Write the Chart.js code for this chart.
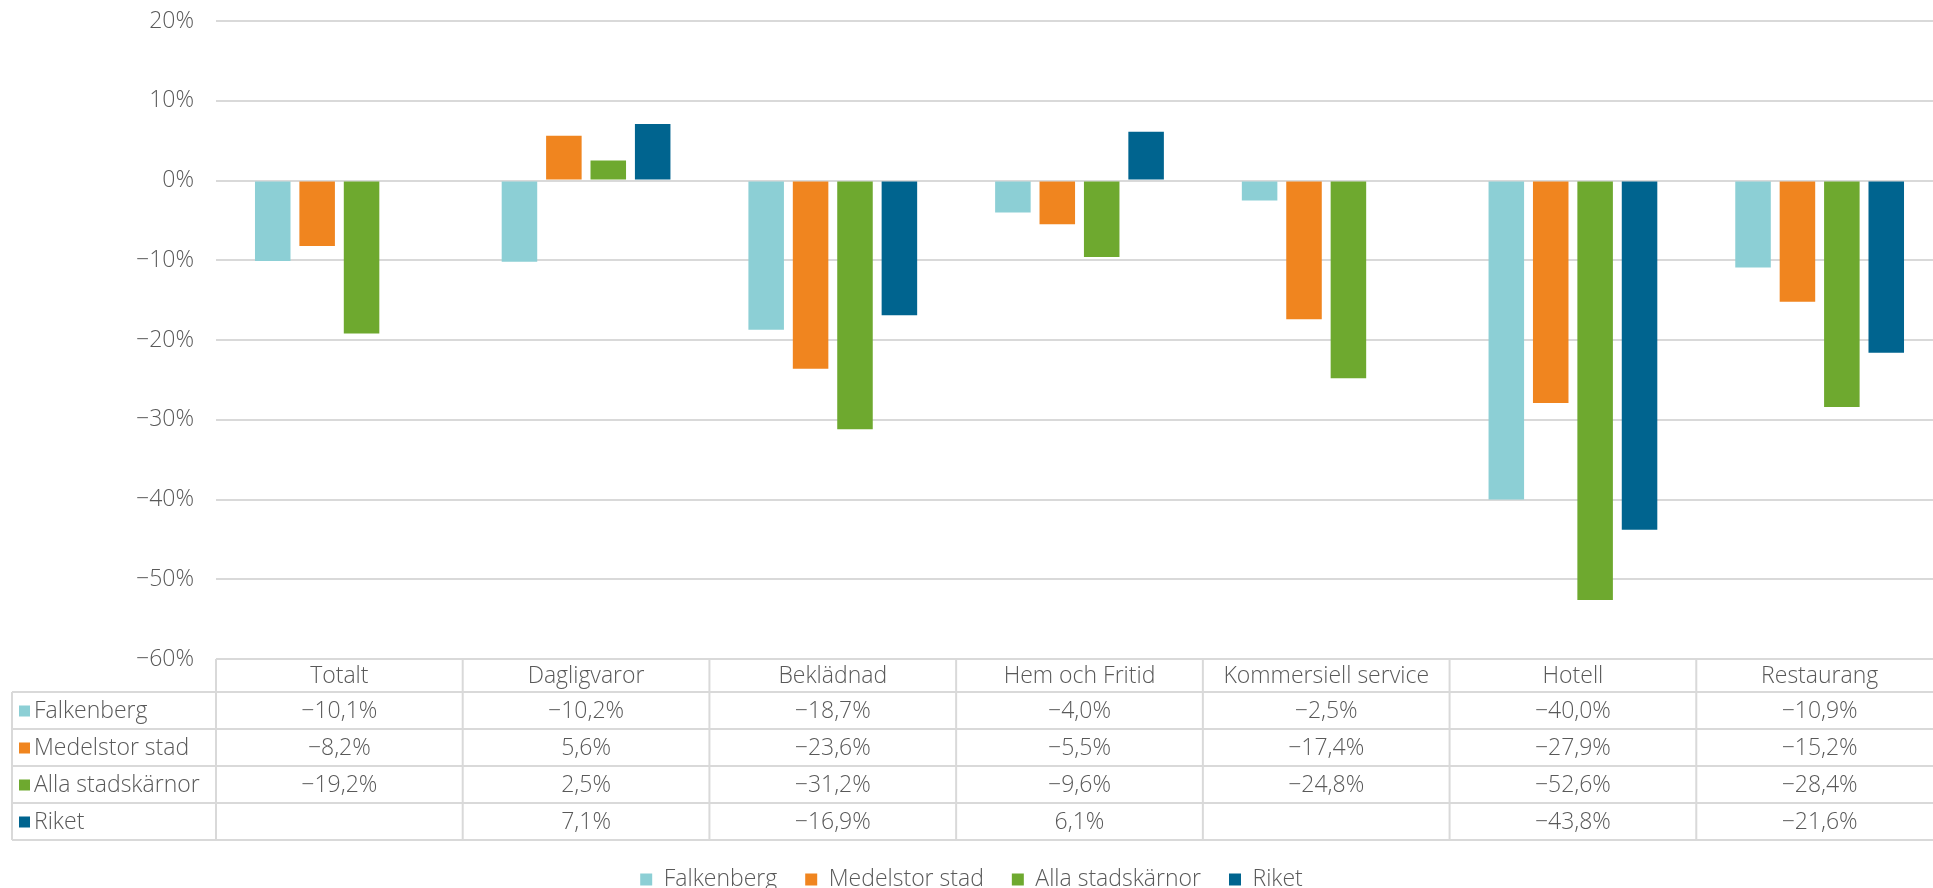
<!DOCTYPE html>
<html>
<head>
<meta charset="utf-8">
<script src="https://cdn.jsdelivr.net/npm/chart.js@4.4.1/dist/chart.umd.min.js"></script>
<style>
  html, body { margin: 0; padding: 0; background: #fff; overflow: hidden; }
  #wrap { width: 1943px; height: 888px; }
</style>
</head>
<body>
<div id="wrap"><canvas id="chart" width="1943" height="888"></canvas></div>
<script>
const categories = ['Totalt', 'Dagligvaror', 'Beklädnad', 'Hem och Fritid', 'Kommersiell service', 'Hotell', 'Restaurang'];
const falkenberg = [-10.1, -10.2, -18.7, -4.0, -2.5, -40.0, -10.9];
const medelstor = [-8.2, 5.6, -23.6, -5.5, -17.4, -27.9, -15.2];
const allaStadskarnor = [-19.2, 2.5, -31.2, -9.6, -24.8, -52.6, -28.4];
const riket = [null, 7.1, -16.9, 6.1, null, -43.8, -21.6];
const seriesNames = ['Falkenberg', 'Medelstor stad', 'Alla stadskärnor', 'Riket'];
const seriesColors = ['#8ccfd5', '#f0851f', '#6ea92f', '#00648f'];
const yMin = -60, yMax = 20, yStep = 10;

const textColor = '#595959';
const gridColor = '#d9d9d9';
const fontFamily = '"Open Sans", "DejaVu Sans", sans-serif';
const fontSize = 23;

function fmtPct(v, decimals) {
    if (v === null || v === undefined) return '';
    const s = Math.abs(v).toFixed(decimals).replace('.', ',');
    return (v < 0 ? '\u2212' : '') + s + '%';
}

// legend sits a bit tighter to the bottom edge than the default padding gives
const legendTighten = {
    id: 'legendTighten',
    beforeInit(chart) {
        const lg = chart.legend;
        if (!lg) return;
        const origFit = lg.fit;
        lg.fit = function() {
            origFit.call(this);
            this.height -= 13;
        };
    }
};

// draws the data table under the plot, lined up with the x scale
const dataTable = {
    id: 'dataTable',
    afterDraw(chart) {
        const ctx = chart.ctx;
        const area = chart.chartArea;
        const xs = chart.scales.x;
        const top = area.bottom;
        const headH = 33, rowH = 37, tableLeft = 12;
        const colW = (area.right - area.left) / categories.length;
        const bottom = top + headH + rowH * seriesNames.length;
        const allSeries = chart.data.datasets.map(d => d.data);

        ctx.save();
        ctx.strokeStyle = gridColor;
        ctx.lineWidth = 2;
        ctx.beginPath();
        ctx.moveTo(area.left, top); ctx.lineTo(area.right, top);
        for (let r = 0; r <= seriesNames.length; r++) {
            const y = top + headH + r * rowH;
            ctx.moveTo(tableLeft, y); ctx.lineTo(area.right, y);
        }
        for (let c = 0; c <= categories.length; c++) {
            const x = area.left + c * colW;
            ctx.moveTo(x, top); ctx.lineTo(x, bottom);
        }
        ctx.moveTo(tableLeft, top + headH); ctx.lineTo(tableLeft, bottom);
        ctx.stroke();

        ctx.font = '300 ' + fontSize + 'px ' + fontFamily;
        ctx.fillStyle = textColor;
        ctx.textBaseline = 'middle';
        ctx.textAlign = 'center';
        categories.forEach((cat, i) => {
            ctx.fillText(cat, xs.getPixelForValue(i), top + headH / 2 + 1);
        });

        seriesNames.forEach((name, r) => {
            const yc = top + headH + r * rowH + rowH / 2;
            ctx.fillStyle = seriesColors[r];
            ctx.fillRect(tableLeft + 7, yc - 5, 11, 11);
            ctx.fillStyle = textColor;
            ctx.textAlign = 'left';
            ctx.fillText(name, tableLeft + 22, yc + 1);
            ctx.textAlign = 'center';
            allSeries[r].forEach((v, i) => {
                ctx.fillText(fmtPct(v, 1), xs.getPixelForValue(i), yc + 1);
            });
        });
        ctx.restore();
    }
};

new Chart(document.getElementById('chart').getContext('2d'), {
    type: 'bar',
    data: {
        labels: categories,
        datasets: [falkenberg, medelstor, allaStadskarnor, riket].map((d, i) => ({
            label: seriesNames[i],
            data: d,
            backgroundColor: seriesColors[i],
            borderWidth: 0,
            barPercentage: 0.8,
            categoryPercentage: 0.72
        }))
    },
    options: {
        responsive: false,
        animation: false,
        devicePixelRatio: 1,
        layout: { padding: { top: 21, left: 0, right: 0, bottom: 0 } },
        plugins: {
            tooltip: { enabled: false },
            title: { display: false },
            legend: {
                position: 'bottom',
                labels: {
                    color: textColor,
                    font: { family: fontFamily, size: fontSize, weight: '300' },
                    boxWidth: 12, boxHeight: 12,
                    padding: 28
                }
            }
        },
        scales: {
            x: {
                ticks: { display: false },
                grid: { display: false },
                border: { display: false },
                afterFit: axis => { axis.height = 181; }
            },
            y: {
                min: yMin, max: yMax,
                ticks: {
                    stepSize: yStep,
                    color: textColor,
                    font: { family: fontFamily, size: fontSize, weight: '300' },
                    padding: 22,
                    callback: v => fmtPct(v, 0)
                },
                grid: { color: gridColor, lineWidth: 2, drawTicks: false },
                border: { display: false },
                afterFit: axis => {
                    axis.width = 216;
                    axis.paddingTop = 0;
                    axis.paddingBottom = 0;
                }
            }
        }
    },
    plugins: [legendTighten, dataTable]
});
</script>
</body>
</html>
